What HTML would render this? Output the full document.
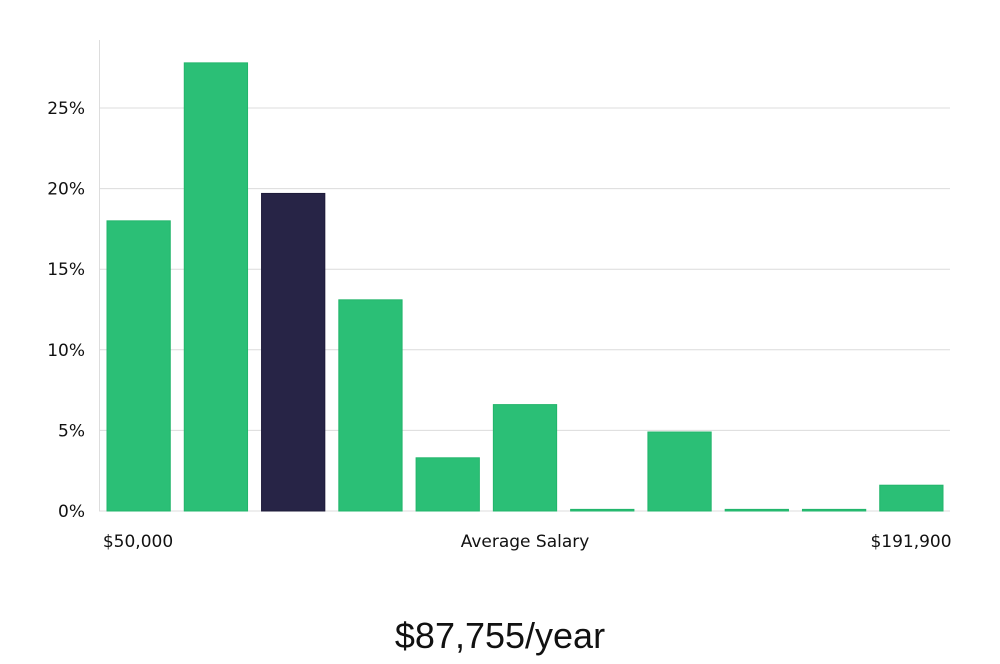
<!DOCTYPE html>
<html><head><meta charset="utf-8"><style>
body{margin:0;background:#fff;width:1000px;height:660px;overflow:hidden;font-family:"DejaVu Sans","Liberation Sans",sans-serif}
</style></head><body>
<svg width="1000" height="660">
<g id="grid"></g><g id="bars"></g>
<text x="138" y="547" font-size="17" text-anchor="middle" fill="#111">$50,000</text>
<text x="525" y="547" font-size="17" text-anchor="middle" fill="#111">Average Salary</text>
<text x="911" y="547" font-size="17" text-anchor="middle" fill="#111">$191,900</text>
<text x="500" y="648" font-size="36" font-weight="300" text-anchor="middle" fill="#111" font-family="'Liberation Sans',sans-serif">$87,755/year</text>
</svg>
<script>
const categories=["b1","b2","b3","b4","b5","b6","b7","b8","b9","b10","b11"];
const values=[18.0,27.8,19.7,13.1,3.3,6.6,0.1,4.9,0.1,0.1,1.6];
const highlight=[2];
const ticks=[0,5,10,15,20,25];
const NS="http://www.w3.org/2000/svg";
const x0=100,x1=950,y0=511,pxPer=16.12;
const y=v=>y0-v*pxPer;
const band=(x1-x0)/categories.length;
const g=document.getElementById('grid'),b=document.getElementById('bars');
function mk(t,a,p){const e=document.createElementNS(NS,t);for(const k in a)e.setAttribute(k,a[k]);p.appendChild(e);return e;}
const ax=mk('line',{x1:99.5,x2:99.5,y1:40,y2:y0,stroke:'#ddd'},g);


ticks.forEach(t=>{
 const l=mk('line',{x1:99,x2:950,y1:y(t),y2:y(t),stroke:'#dcdcdc'},g);
 
 
 const tx=mk('text',{x:85,y:y(t)+6,'font-size':17,'text-anchor':'end',fill:'#111'},g);
 tx.textContent=t+'%';
 
 
});
values.forEach((v,i)=>{
 const h=Math.max(v*pxPer,1);
 const r=mk('rect',{x:x0+i*band+7,y:y0-h,width:band-14,height:h,fill:highlight.includes(i)?'#272446':'#2bbf76',stroke:highlight.includes(i)?'#1e1b3a':'#22b56b','stroke-width':1},b);
 
 
});
</script>
</body></html>
